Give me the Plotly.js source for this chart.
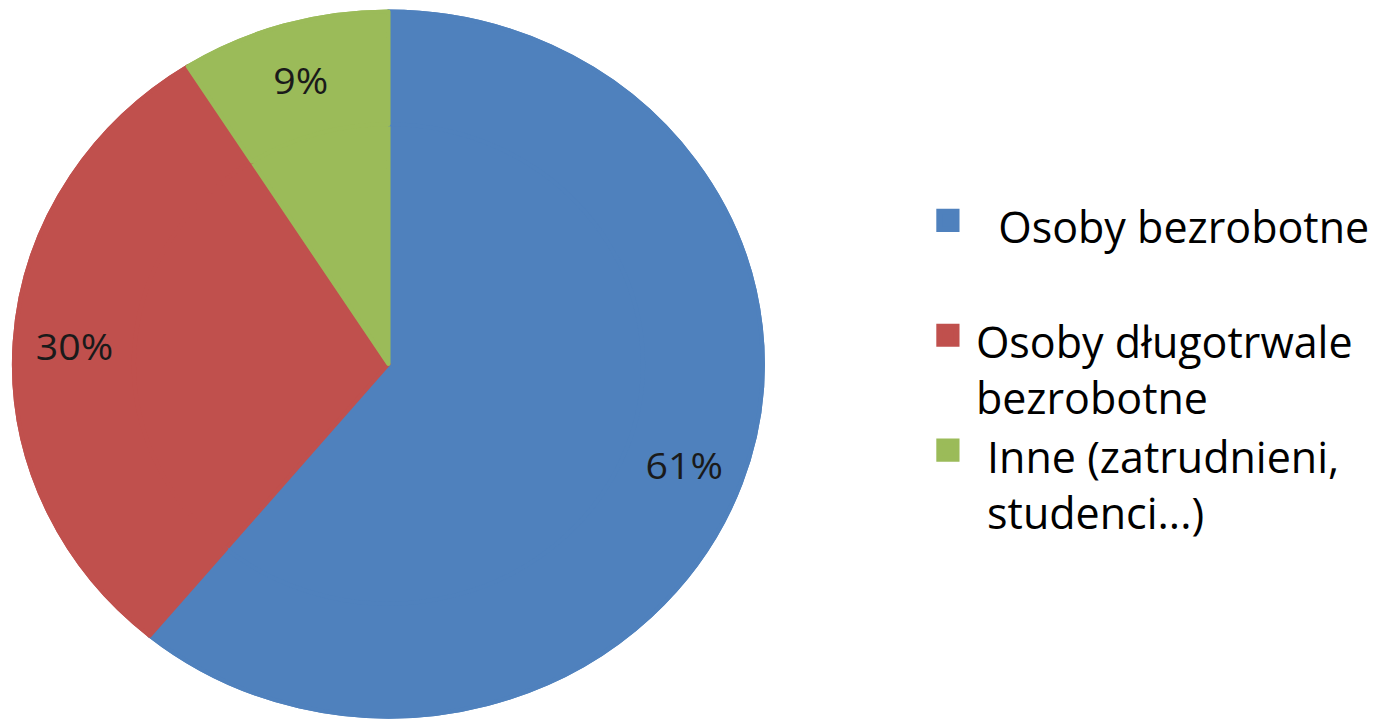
<!DOCTYPE html>
<html>
<head>
<meta charset="utf-8">
<script src="https://cdn.plot.ly/plotly-3.0.1.min.js"></script>
<style>
html,body{margin:0;padding:0;background:#fff;}
#chart{width:1375px;height:721px;}
</style>
</head>
<body>
<div id="chart"></div>
<script>
const categories = [
  "\u00A0\u00A0Osoby bezrobotne<br>\u00A0",
  "Osoby długotrwale<br>bezrobotne",
  "\u00A0Inne (zatrudnieni,<br>\u00A0studenci...)"
];
const values = [61, 30, 9];
const colors = ["#4F81BD", "#C0504D", "#9BBB59"];

const pieDomain = {x: [36/1375, 742/1375], y: [4/721, 710/721]};

// full pie (no labels)
const base = {
  type: "pie",
  labels: categories,
  values: values,
  sort: false,
  direction: "clockwise",
  rotation: 0,
  marker: {colors: colors, line: {width: 4, color: colors}},
  textinfo: "none",
  domain: pieDomain,
  hoverinfo: "none",
  showlegend: true
};

// ring on top carrying the percentage labels toward the rim
const ring = {
  type: "pie",
  labels: categories,
  values: values,
  sort: false,
  direction: "clockwise",
  rotation: 0,
  hole: 0.68,
  marker: {colors: colors, line: {width: 4, color: colors}},
  textinfo: "percent",
  texttemplate: "%{percent:.0%}",
  textposition: "inside",
  insidetextorientation: "horizontal",
  textfont: {family: "Open Sans, sans-serif", size: 37, color: "#1a1a1a"},
  domain: pieDomain,
  hoverinfo: "none",
  showlegend: false
};

const layout = {
  width: 1375,
  height: 721,
  margin: {l: 0, r: 0, t: 0, b: 0},
  paper_bgcolor: "#ffffff",
  showlegend: true,
  legend: {
    x: 0.670, y: 1 - 192/721, xanchor: "left", yanchor: "top",
    valign: "top",
    itemwidth: 46,
    font: {family: "Open Sans, sans-serif", size: 43, color: "#000000"},
    bgcolor: "rgba(0,0,0,0)"
  }
};

Plotly.newPlot("chart", [base, ring], layout, {staticPlot: true}).then(function(gd){
  const pl = gd.querySelector("g.pielayer");
  if (pl) pl.setAttribute("transform", "translate(389,0) scale(1.062,1) translate(-389,0)");
  gd.querySelectorAll("g.legend g.legendpoints path").forEach(function(p){
    const t = p.getAttribute("transform") || "";
    p.setAttribute("transform", t + " translate(0,-6) scale(1.45)");
  });
});
</script>
</body>
</html>
